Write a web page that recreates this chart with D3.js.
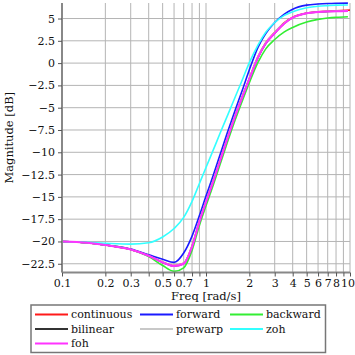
<!DOCTYPE html>
<html>
<head>
<meta charset="utf-8">
<script src="https://cdn.jsdelivr.net/npm/d3@7"></script>
<style>
  html, body { margin: 0; padding: 0; background: #fff; }
  svg { display: block; font-family: "DejaVu Serif", serif; }
</style>
</head>
<body>
<svg id="chart" width="355" height="355"></svg>
<script>
// ---- data ----
const freqDisc = [0.1, 0.15, 0.2, 0.3, 0.4, 0.5, 0.6, 0.7, 0.8, 0.9, 1.0, 1.1, 1.25, 1.4, 1.6, 1.8, 2.0, 2.3, 2.6, 3.0, 3.5, 4, 5, 6, 7, 8, 9.67];
const freqCont = [0.1, 0.15, 0.2, 0.3, 0.4, 0.5, 0.6, 0.7, 0.8, 0.9, 1.0, 1.1, 1.25, 1.4, 1.6, 1.8, 2.0, 2.3, 2.6, 3.0, 3.5, 4, 5, 6, 7, 8, 10];

const continuous = [-20.0, -20.15, -20.4, -20.9, -21.6, -22.3, -22.7, -22.45, -20.5, -17.7, -15.5, -13.6, -10.9, -8.5, -5.8, -3.6, -1.7, 0.75, 2.3, 3.45, 4.55, 5.15, 5.62, 5.75, 5.82, 5.87, 5.94];
const forward    = [-20.0, -20.15, -20.4, -20.85, -21.5, -22.0, -22.35, -21.3, -19.4, -17.1, -14.9, -13.0, -10.3, -7.9, -5.2, -2.9, -0.75, 1.8, 3.3, 4.55, 5.5, 6.05, 6.5, 6.62, 6.68, 6.71, 6.73];
const backward   = [-20.0, -20.15, -20.4, -20.9, -21.7, -22.7, -23.35, -22.95, -21.0, -18.2, -16.0, -14.1, -11.4, -9.0, -6.3, -4.1, -2.2, 0.1, 1.6, 2.65, 3.5, 4.0, 4.6, 4.9, 5.05, 5.13, 5.19];
const bilinear   = [-20.0, -20.15, -20.4, -20.9, -21.6, -22.35, -22.75, -22.5, -20.6, -17.8, -15.6, -13.7, -11.0, -8.6, -5.9, -3.7, -1.8, 0.65, 2.2, 3.35, 4.45, 5.1, 5.6, 5.72, 5.78, 5.82, 5.85];
const prewarp    = [-20.0, -20.15, -20.4, -20.9, -21.6, -22.3, -22.7, -22.45, -20.5, -17.7, -15.5, -13.6, -10.9, -8.5, -5.8, -3.6, -1.7, 0.75, 2.3, 3.45, 4.5, 5.12, 5.6, 5.73, 5.8, 5.84, 5.87];
const zoh        = [-20.0, -20.1, -20.2, -20.3, -20.15, -19.5, -18.55, -17.3, -15.5, -13.5, -11.7, -10.1, -7.9, -6.0, -3.75, -1.75, 0.05, 2.05, 3.45, 4.55, 5.35, 5.75, 6.2, 6.38, 6.45, 6.5, 6.52];
const foh        = [-20.0, -20.15, -20.4, -20.9, -21.6, -22.35, -22.75, -22.5, -20.6, -17.8, -15.6, -13.7, -11.0, -8.6, -5.9, -3.7, -1.8, 0.65, 2.2, 3.35, 4.45, 5.1, 5.6, 5.72, 5.78, 5.82, 5.85];

const seriesNames  = ["continuous", "forward", "backward", "bilinear", "prewarp", "zoh", "foh"];
const seriesColors = ["#ff1a1a", "#1a1aff", "#33ee33", "#333333", "#c8c8c8", "#33ffff", "#ff33ff"];

const yTicks = [-22.5, -20, -17.5, -15, -12.5, -10, -7.5, -5, -2.5, 0, 2.5, 5];
const xTickLabels = [0.1, 0.2, 0.3, 0.5, 0.7, 1, 2, 3, 4, 5, 6, 7, 8, 10];
const xDomain = [0.1, 10];
const yDomain = [-23.48, 6.74];

// ---- chart ----
const svg = d3.select("#chart");
const plot = { left: 62, right: 350, top: 3, bottom: 272.5 };

const x = d3.scaleLog().domain(xDomain).range([plot.left, plot.right]);
const y = d3.scaleLinear().domain(yDomain).range([plot.bottom, plot.top]);

// all minor tick positions 1..9 x decade
const xTicksAll = [];
[0.1, 1].forEach(dec => { for (let k = 1; k <= 9; k++) xTicksAll.push(+(dec * k).toFixed(4)); });
xTicksAll.push(10);

// grid
const grid = svg.append("g").attr("class", "grid");
grid.selectAll("line.v").data(xTicksAll).join("line")
  .attr("x1", d => x(d)).attr("x2", d => x(d))
  .attr("y1", plot.top).attr("y2", plot.bottom)
  .attr("stroke", "#b4b4b4").attr("stroke-width", 1);
grid.selectAll("line.h").data(yTicks).join("line")
  .attr("x1", plot.left).attr("x2", plot.right)
  .attr("y1", d => y(d)).attr("y2", d => y(d))
  .attr("stroke", "#b4b4b4").attr("stroke-width", 1);

// lines
svg.append("clipPath").attr("id", "clip").append("rect")
  .attr("x", plot.left).attr("y", plot.top - 2)
  .attr("width", plot.right - plot.left + 2).attr("height", plot.bottom - plot.top + 2);

const seriesData = [continuous, forward, backward, bilinear, prewarp, zoh, foh];
const line = d3.line().curve(d3.curveMonotoneX).x(d => x(d[0])).y(d => y(d[1]));
const lg = svg.append("g").attr("clip-path", "url(#clip)");
seriesData.forEach((vals, i) => {
  const fr = i === 0 ? freqCont : freqDisc;
  const pts = vals.map((v, j) => [fr[j], v]);
  lg.append("path").datum(pts)
    .attr("d", line)
    .attr("fill", "none")
    .attr("stroke", seriesColors[i])
    .attr("stroke-width", i === 6 ? 2 : 1.6);
});

// axes
const fmtMinus = d => String(d).replace("-", "\u2212");
const xAxis = d3.axisBottom(x).tickValues(xTicksAll).tickSize(4).tickPadding(3)
  .tickFormat(d => xTickLabels.some(t => Math.abs(t - d) < 1e-9) ? String(d) : "");
const yAxis = d3.axisLeft(y).tickValues(yTicks).tickSize(4).tickPadding(3).tickFormat(fmtMinus);

const gx = svg.append("g").attr("transform", `translate(0,${plot.bottom})`).call(xAxis);
const gy = svg.append("g").attr("transform", `translate(${plot.left},0)`).call(yAxis);
[gx, gy].forEach(g => {
  g.select(".domain").attr("stroke", "#888").attr("stroke-width", 2);
  g.selectAll(".tick line").attr("stroke", "#555");
  g.selectAll(".tick text").attr("fill", "#111").style("font-size", "11px").style("font-family", "DejaVu Serif, serif");
});
gy.select(".domain").attr("d", `M0,${plot.top}V${plot.bottom}`);
gx.select(".domain").attr("d", `M${plot.left},0H${plot.right}`);
// keep the last x label ("10") inside the window
gx.selectAll(".tick text").filter(d => d === 10).attr("text-anchor", "end").attr("dx", "4.5");

// axis titles
svg.append("text")
  .attr("x", (plot.left + plot.right) / 2).attr("y", 300)
  .attr("text-anchor", "middle").attr("fill", "#111")
  .style("font-size", "11.5px").text("Freq [rad/s]");
svg.append("text")
  .attr("transform", `translate(13,${(plot.top + plot.bottom) / 2}) rotate(-90)`)
  .attr("text-anchor", "middle").attr("fill", "#111")
  .style("font-size", "11.5px").text("Magnitude [dB]");

// legend
const leg = svg.append("g");
leg.append("rect").attr("x", 31).attr("y", 305).attr("width", 294.5).attr("height", 47.5)
  .attr("fill", "#fff").attr("stroke", "#777").attr("stroke-width", 1.5);
const colX = [35, 140, 230];
const rowY = [314.5, 329, 343.5];
seriesNames.forEach((name, i) => {
  const c = i % 3, r = Math.floor(i / 3);
  const g = leg.append("g");
  g.append("line").attr("x1", colX[c]).attr("x2", colX[c] + 33)
    .attr("y1", rowY[r]).attr("y2", rowY[r])
    .attr("stroke", seriesColors[i]).attr("stroke-width", 2);
  g.append("text").attr("x", colX[c] + 36).attr("y", rowY[r]).attr("dy", "0.35em")
    .attr("fill", "#111").style("font-size", "11px").text(name);
});
</script>
</body>
</html>
